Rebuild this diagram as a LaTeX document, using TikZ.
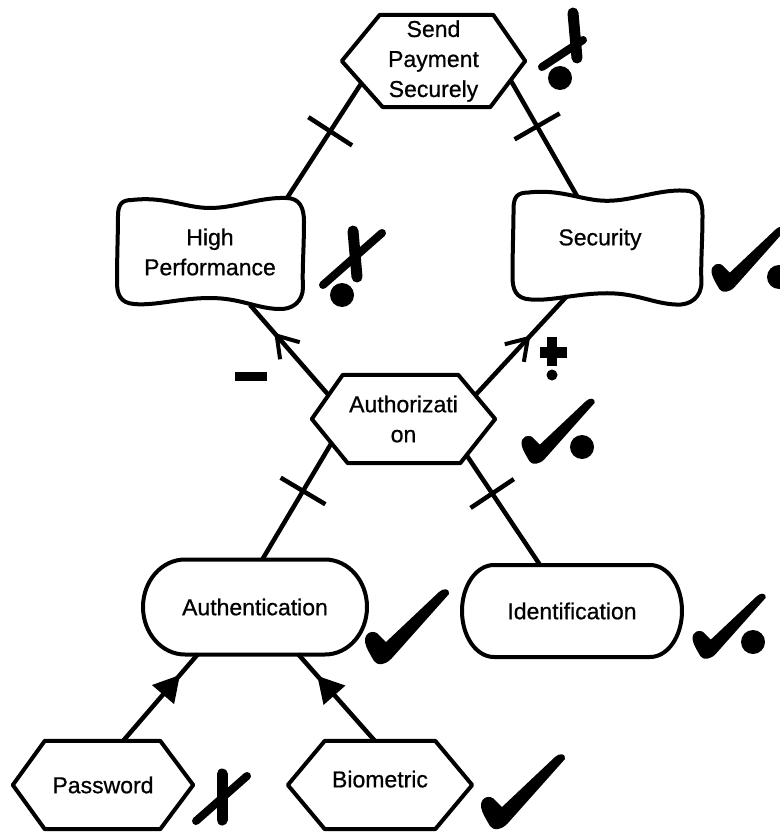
\documentclass[tikz,border=0pt]{standalone}
\usepackage{fontspec}
\setmainfont{Liberation Sans}
\newfontfamily\labelfont{Liberation Sans}[FakeBold=0.7]
\usetikzlibrary{calc,arrows.meta,decorations.markings}

\tikzset{
  base/.style={inner sep=0pt, font=\labelfont\fontsize{23}{30}\selectfont, align=center},
  shapeline/.style={line width=4pt, line join=round},
  link/.style={line width=4.5pt},
  tickat/.style={postaction={decorate, decoration={markings,
      mark=at position #1 with {\draw[line width=4.5pt] (0pt,-26pt) -- (0pt,26pt);}}}},
  openhead/.style={postaction={decorate, decoration={markings,
      mark=at position #1 with {\arrow{Straight Barb[length=20pt,width=26pt,line width=4pt]}}}}},
  solidhead/.style={postaction={decorate, decoration={markings,
      mark=at position #1 with {\arrow{Triangle[length=26pt,width=28pt]}}}}},
  xstroke/.style={line width=8pt, line cap=round},
  xstem/.style={line width=11pt, line cap=round},
  % soft goal outline
  pillowshape/.pic={
    \draw[shapeline] (-78,-52) .. controls (-45,-56) and (-25,-44) .. (0,-44)
      .. controls (25,-44) and (50,-55) .. (76,-54)
      .. controls (90,-54) and (94,-44) .. (94,-30)
      .. controls (94,-5) and (92,20) .. (93,35)
      .. controls (93,50) and (82,58) .. (68,57)
      .. controls (45,56) and (30,46) .. (0,46)
      .. controls (-30,46) and (-55,54) .. (-76,52)
      .. controls (-90,51) and (-93,42) .. (-93,30)
      .. controls (-93,5) and (-92,-20) .. (-92,-36)
      .. controls (-92,-48) and (-88,-52) .. (-78,-52) -- cycle;},
  % satisfaction tick
  checkglyph/.pic={
    \fill (-12,-20) .. controls (-13,-30) and (-3,-33) .. (2,-27) -- (9,-20)
      -- (62,-70) .. controls (66,-74) and (73,-74) .. (72,-68)
      -- (15,-4) .. controls (9,3) and (0,4) .. (-3,-1)
      .. controls (-7,-8) and (-11,-14) .. (-12,-20) -- cycle;}
}

% hexagon around a node: insets of the NW, NE, SE, SW corners
\newcommand\hexoutline[5]{%
  \draw[shapeline] (#1.west) -- ([xshift=#2pt]#1.north west) -- ([xshift=-#3pt]#1.north east)
    -- (#1.east) -- ([xshift=-#4pt]#1.south east) -- ([xshift=#5pt]#1.south west) -- cycle;}

% rounded box around a node: half width, half height, end radius
\newcommand\stadiumoutline[4]{%
  \draw[shapeline, shift={(#1.center)}]
    ({-#2+#4},{-#3}) -- ({#2-#4},{-#3})
    .. controls ({#2-#4+0.5523*#4},{-#3}) and ({#2},{-0.5523*#3}) .. ({#2},0)
    .. controls ({#2},{0.5523*#3}) and ({#2-#4+0.5523*#4},{#3}) .. ({#2-#4},{#3})
    -- ({-#2+#4},{#3})
    .. controls ({-#2+#4-0.5523*#4},{#3}) and ({-#2},{0.5523*#3}) .. ({-#2},0)
    .. controls ({-#2},{-0.5523*#3}) and ({-#2+#4-0.5523*#4},{-#3}) .. ({-#2+#4},{-#3}) -- cycle;}

\begin{document}
\begin{tikzpicture}[x=1pt, y=-1pt]
  \fill[white] (0,0) rectangle (779,832);
  \useasboundingbox (0,0) rectangle (779,832);

  % elements
  \node[base, minimum width=183pt, minimum height=92pt] (send) at (433.5,61)
    {\raisebox{-8pt}{\begin{tabular}{@{}c@{}}Send\\Payment\\Securely\end{tabular}}};
  \node[base, minimum width=186pt, minimum height=110pt] (hp) at (210,252) {High\\Performance};
  \node[base, minimum width=189pt, minimum height=113pt] (sec) at (607,246) {\raisebox{18pt}{Security\hspace{14pt}}};
  \node[base, minimum width=183pt, minimum height=88pt] (auth) at (403.5,419) {Authorizati\\on};
  \node[base, minimum width=224pt, minimum height=95pt] (authn) at (255,607) {Authentication};
  \node[base, minimum width=220pt, minimum height=92pt] (ident) at (572,611) {Identification};
  \node[base, minimum width=180pt, minimum height=88pt] (pw) at (103,785) {Password};
  \node[base, minimum width=184pt, minimum height=88pt] (bio) at (380,785) {\raisebox{12pt}{Biometric}};

  % outlines
  \hexoutline{send}{38}{32}{35}{41}
  \hexoutline{auth}{31}{37}{35}{36}
  \hexoutline{pw}{32}{33}{33}{32}
  \hexoutline{bio}{37}{37}{37}{37}
  \pic at (hp.center) {pillowshape};
  \pic[xscale=1.016, yscale=1.027] at (sec.center) {pillowshape};
  \stadiumoutline{authn}{112}{47.5}{42}
  \stadiumoutline{ident}{110}{46}{32}

  % decompositions
  \draw[link, tickat=0.42] ([shift={(-72,22)}]send.center) -- ([shift={(77,-54)}]hp.center);
  \draw[link, tickat=0.40] ([shift={(77,19)}]send.center) -- ([shift={(-30,-50)}]sec.center);
  \draw[link, tickat=0.41] ([shift={(-72,24)}]auth.center) -- ([shift={(7,-47)}]authn.center);
  \draw[link, tickat=0.35] ([shift={(63,36)}]auth.center) -- ([shift={(-32,-46)}]ident.center);

  % contributions
  \draw[link, openhead=0.69] ([shift={(-75,-24)}]auth.center) -- ([shift={(40,53)}]hp.center);
  \draw[link, openhead=0.6] ([shift={(72,-24)}]auth.center) -- ([shift={(-40,50)}]sec.center);
  \fill (235,372) rectangle (267,381);
  \fill (547,337) rectangle (557,366);
  \fill (540,347) rectangle (567,358);
  \fill (552,375) circle[radius=5.5pt];

  % means-end links
  \draw[link, solidhead=0.76] ([shift={(20,-44)}]pw.center) -- ([shift={(-57,47)}]authn.center);
  \draw[link, solidhead=0.75] ([shift={(-5,-44)}]bio.center) -- ([shift={(43,47)}]authn.center);

  % evaluation marks
  \draw[xstem] (573,13) -- (577,58);
  \draw[xstroke] (542,67) -- (583,40);
  \fill (560,78) circle[radius=12pt];

  \draw[xstem] (353,231) -- (357,277);
  \draw[xstroke] (323,285) -- (382,233);
  \fill (342,295) circle[radius=12pt];

  \draw[xstem] (222,774) -- (222,820);
  \draw[xstroke] (196,821) -- (247,776);

  \pic[scale=0.87] at (722,290) {checkglyph};
  \fill (779,277) circle[radius=12pt];
  \pic[scale=0.87] at (532,462) {checkglyph};
  \fill (582,447) circle[radius=12pt];
  \pic[scale=0.87] at (703,657) {checkglyph};
  \fill (753,642) circle[radius=12pt];
  \pic at (377,662) {checkglyph};
  \pic at (493,827) {checkglyph};
\end{tikzpicture}
\end{document}
